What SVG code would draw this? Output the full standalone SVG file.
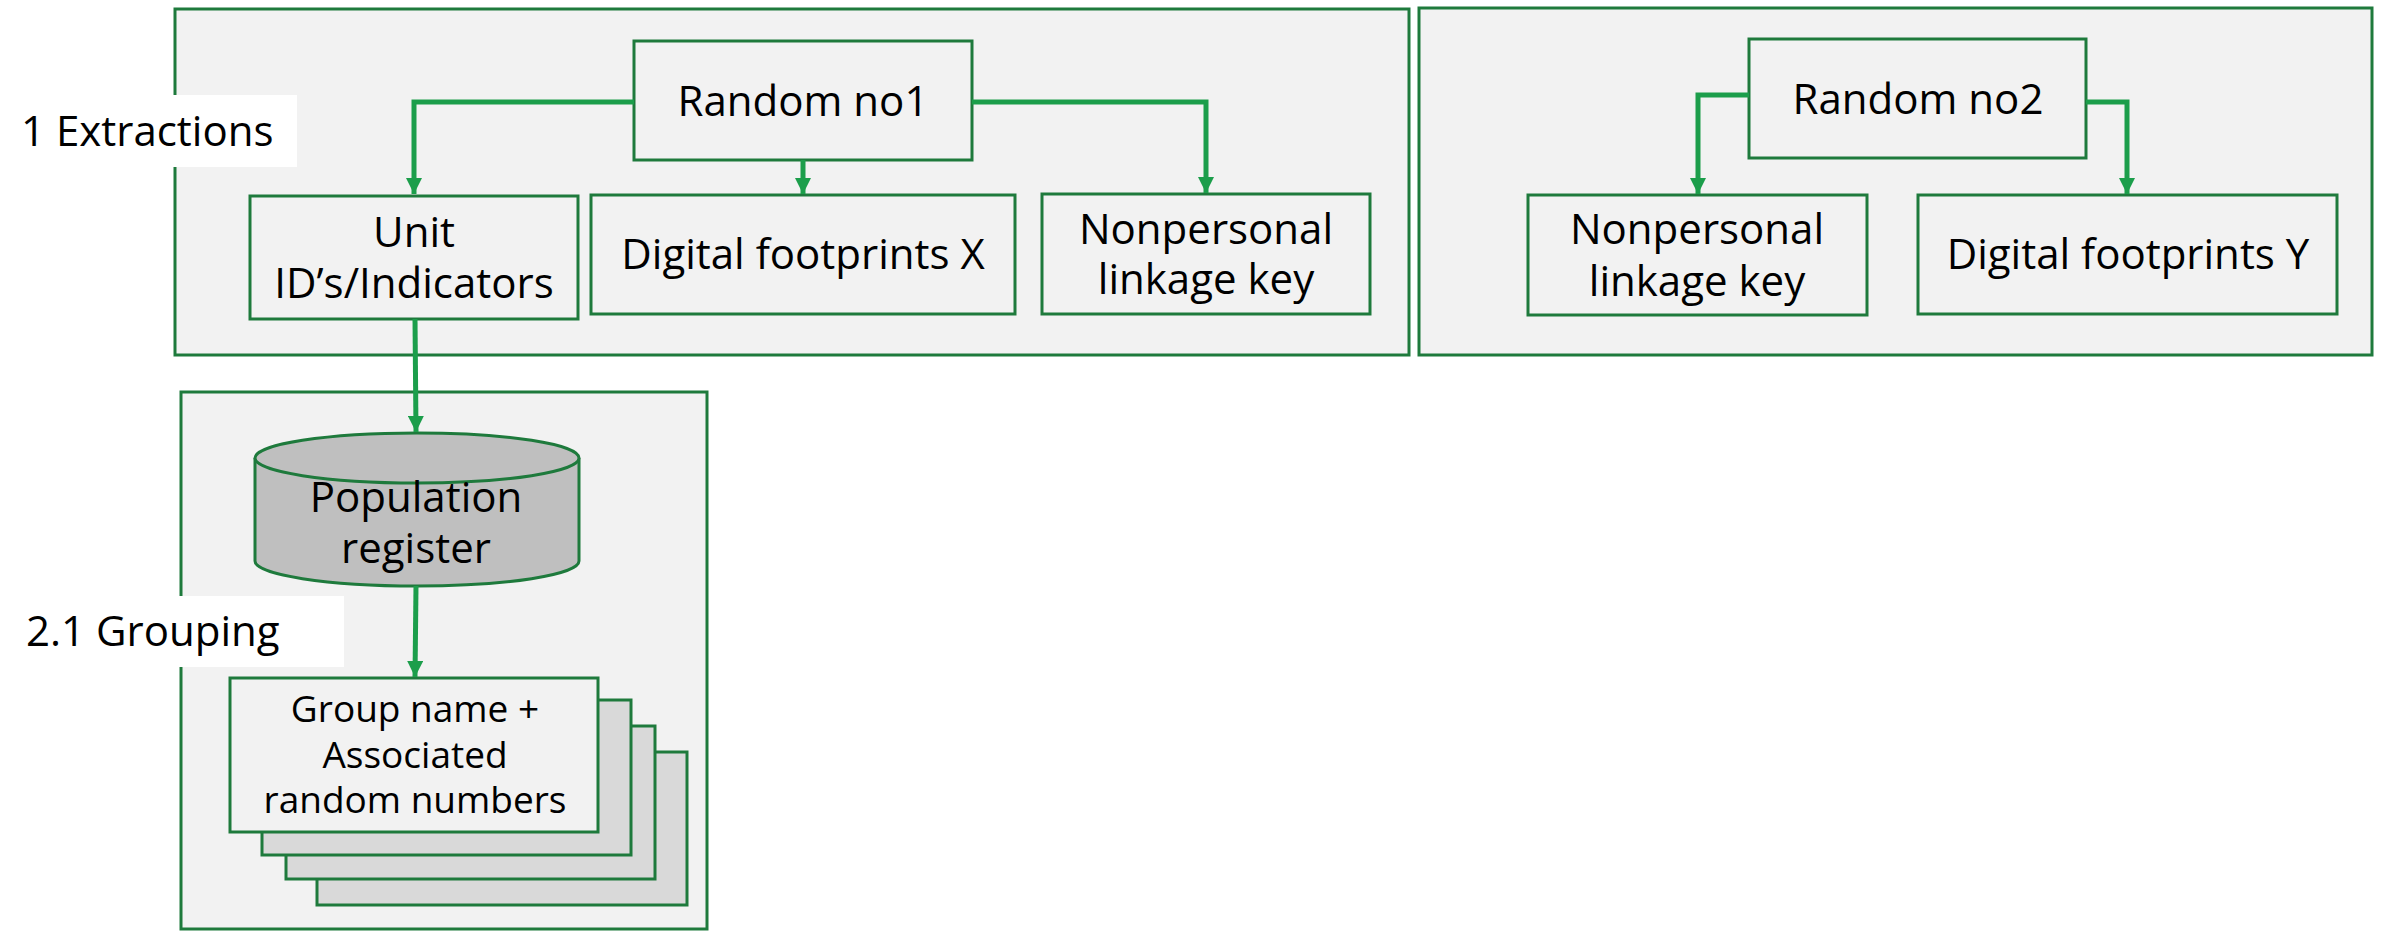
<svg xmlns="http://www.w3.org/2000/svg" width="2381" height="932" viewBox="0 0 2381 932">
<defs>
<marker id="ah" markerUnits="userSpaceOnUse" markerWidth="18" markerHeight="16" refX="16" refY="8" orient="auto">
<path d="M0,0 L16,8 L0,16 Z" fill="#1c9e4b"/>
</marker>
<style>
.frame{fill:#f2f2f2;stroke:#1e7a3c;stroke-width:3}
.box{fill:#f2f2f2;stroke:#1e7a3c;stroke-width:3}
.back{fill:#d9d9d9;stroke:#1e7a3c;stroke-width:3}
.t{font-family:"Open Sans","Noto Sans","Liberation Sans",sans-serif;font-size:42px;fill:#000;text-anchor:middle}
.s{font-family:"Open Sans","Noto Sans","Liberation Sans",sans-serif;font-size:37px;fill:#000;text-anchor:middle}
.lbl{font-family:"Open Sans","Noto Sans","Liberation Sans",sans-serif;font-size:42px;fill:#000}
.c{fill:none;stroke:#1c9e4b;stroke-width:5;marker-end:url(#ah)}
</style>
</defs>
<rect width="2381" height="932" fill="#ffffff"/>
<g id="frame-extractions"><rect class="frame" x="175" y="9" width="1234" height="346"/></g>
<g id="frame-right"><rect class="frame" x="1419" y="8" width="953" height="347"/></g>
<g id="frame-grouping"><rect class="frame" x="181" y="392" width="526" height="537"/></g>
<g id="label-extractions"><rect x="0" y="95" width="297" height="72" fill="#ffffff"/><text class="lbl" x="21" y="146">1 Extractions</text></g>
<g id="label-grouping"><rect x="0" y="596" width="344" height="71" fill="#ffffff"/><text class="lbl" x="26" y="646">2.1 Grouping</text></g>
<g id="random1"><rect class="box" x="634" y="41" width="338" height="119"/><text class="t" x="803" y="116">Random no1</text></g>
<g id="unit-ids"><rect class="box" x="250" y="196" width="328" height="123"/><text class="t" x="414" y="247">Unit</text><text class="t" x="414" y="298">ID’s/Indicators</text></g>
<g id="digital-x"><rect class="box" x="591" y="195" width="424" height="119"/><text class="t" x="803" y="269">Digital footprints X</text></g>
<g id="linkage1"><rect class="box" x="1042" y="194" width="328" height="120"/><text class="t" x="1206" y="244">Nonpersonal</text><text class="t" x="1206" y="294">linkage key</text></g>
<g id="random2"><rect class="box" x="1749" y="39" width="337" height="119"/><text class="t" x="1918" y="114">Random no2</text></g>
<g id="linkage2"><rect class="box" x="1528" y="195" width="339" height="120"/><text class="t" x="1697" y="244">Nonpersonal</text><text class="t" x="1697" y="296">linkage key</text></g>
<g id="digital-y"><rect class="box" x="1918" y="195" width="419" height="119"/><text class="t" x="2128" y="269">Digital footprints Y</text></g>
<g id="population-register">
<path d="M255,458 L255,561 A162,25 0 0 0 579,561 L579,458" fill="#bfbfbf" stroke="#1e7a3c" stroke-width="3"/>
<ellipse cx="417" cy="458" rx="162" ry="25" fill="#bfbfbf" stroke="#1e7a3c" stroke-width="3"/>
<text class="t" x="416" y="512">Population</text><text class="t" x="416" y="563">register</text>
</g>
<g id="groups">
<rect class="back" x="317" y="752" width="370" height="153"/>
<rect class="back" x="286" y="726" width="369" height="153"/>
<rect class="back" x="262" y="700" width="369" height="155"/>
<rect class="box" x="230" y="678" width="368" height="154"/>
<text class="s" x="415" y="722">Group name +</text>
<text class="s" x="415" y="768">Associated</text>
<text class="s" x="415" y="813">random numbers</text>
</g>
<g id="connectors">
<path class="c" d="M634,102 L414,102 L414,194"/>
<path class="c" d="M803,160 L803,194"/>
<path class="c" d="M972,102 L1206,102 L1206,193"/>
<path class="c" d="M1749,95 L1698,95 L1698,194"/>
<path class="c" d="M2086,102 L2127,102 L2127,194"/>
<path class="c" d="M415,319 L416,432"/>
<path class="c" d="M416,586 L415,677"/>
</g>
</svg>
